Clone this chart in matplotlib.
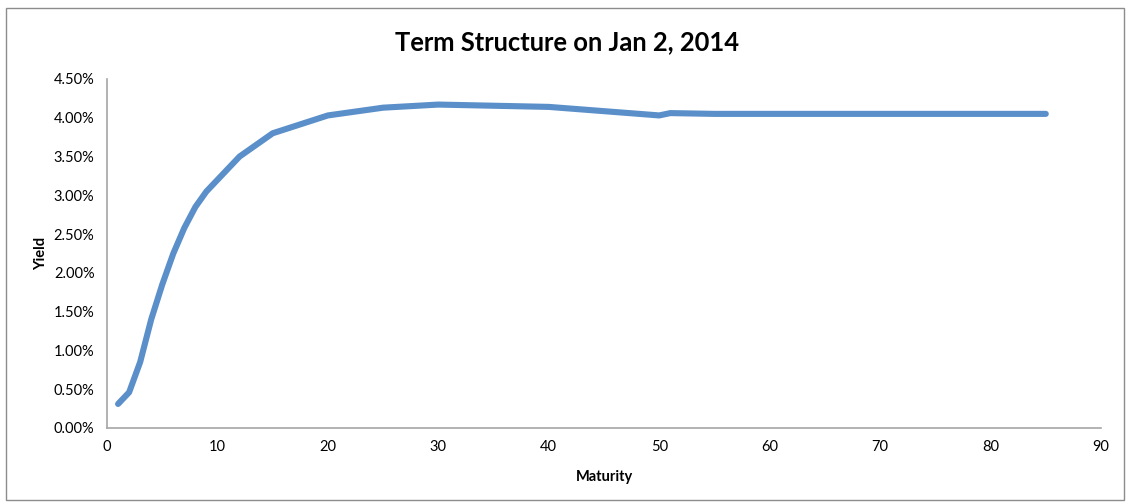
import matplotlib
matplotlib.use("Agg")
import matplotlib.pyplot as plt
from matplotlib.patches import Rectangle
from matplotlib.ticker import FuncFormatter

# Treasury term structure, yields in percent
maturity = [1, 2, 3, 4, 5, 6, 7, 8, 9, 10, 12, 15, 20, 25, 30, 40, 50, 51, 55, 60, 65, 70, 75, 80, 85]
yield_pct = [0.31, 0.46, 0.85, 1.40, 1.85, 2.25, 2.58, 2.85, 3.05, 3.20, 3.50, 3.80, 4.03, 4.13, 4.17,
             4.14, 4.03, 4.06, 4.05, 4.05, 4.05, 4.05, 4.05, 4.05, 4.05]
y_ticks = [0.0, 0.5, 1.0, 1.5, 2.0, 2.5, 3.0, 3.5, 4.0, 4.5]
x_ticks = [0, 10, 20, 30, 40, 50, 60, 70, 80, 90]

plt.rcParams['font.family'] = ['Lato', 'DejaVu Sans']

fig = plt.figure(figsize=(11.29, 5.04), dpi=100)
ax = fig.add_axes([0.0948, 0.1508, 0.8804, 0.6925])

ax.plot(maturity, yield_pct, color='#5b8fc9', lw=4.4, solid_capstyle='round', solid_joinstyle='round')

ax.set_xlim(0, 90)
ax.set_ylim(0, 4.5)
ax.set_xticks(x_ticks)
ax.set_yticks(y_ticks)
ax.yaxis.set_major_formatter(FuncFormatter(lambda v, p: f"{v:.2f}%"))
ax.tick_params(length=0, labelsize=10.5, pad=9)

for s in ['top', 'right']:
    ax.spines[s].set_visible(False)
for s in ['left', 'bottom']:
    ax.spines[s].set_color('#a6a6a6')
    ax.spines[s].set_linewidth(1.2)

fig.text(0.502, 1 - 42 / 504, 'Term Structure on Jan 2, 2014', fontsize=18.4, fontweight='bold',
         ha='center', va='center')
ax.set_xlabel('Maturity', fontsize=10.5, fontweight='bold', labelpad=11)
ax.set_ylabel('Yield', fontsize=10.5, fontweight='bold', labelpad=4)

# chart area border
fig.patches.append(Rectangle((6 / 1129, 4 / 504), 1118 / 1129, 492 / 504, transform=fig.transFigure,
                             fill=False, edgecolor='#8c8c8c', lw=1.0))

fig.savefig('out.png', dpi=100)
